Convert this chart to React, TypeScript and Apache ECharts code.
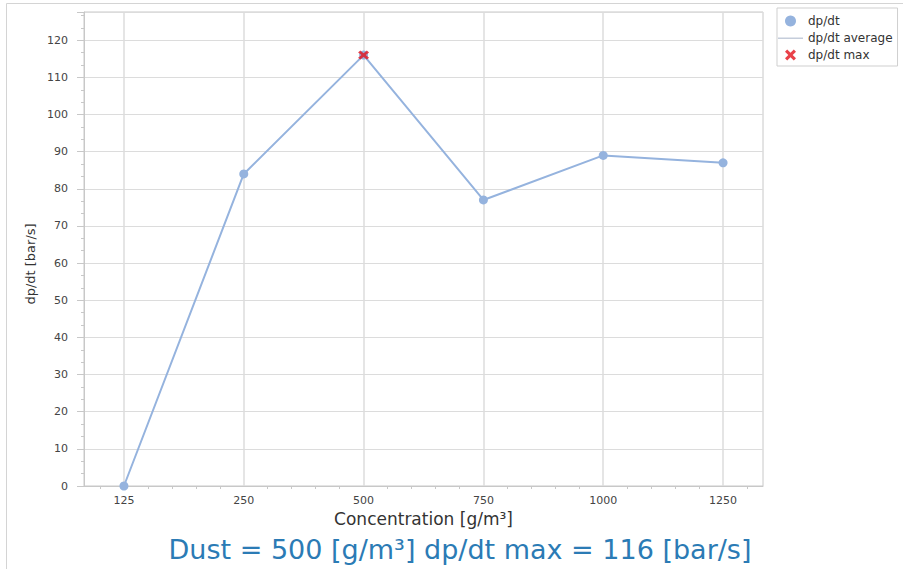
import React, { useEffect, useRef } from "react";
import * as echarts from "echarts";

// Concentration steps (g/m³) and the measured pressure-rise rates (bar/s)
const concentrations = ["125", "250", "500", "750", "1000", "1250"];
const dpdtValues = [0, 84, 116, 77, 89, 87];
const dpdtAverage: [number, number][] = [];
const yTickInterval = 10;

const FONT = "DejaVu Sans, Verdana, sans-serif";
const LINE_BLUE = "#95b3de";
const AVG_GREY = "#8c9cb8";
const GRID_GREY = "#dcdcdc";
const AXIS_GREY = "#c8c8c8";

const CROSS_PATH =
  "path://M2,0 L5,3 L8,0 L10,2 L7,5 L10,8 L8,10 L5,7 L2,10 L0,8 L3,5 L0,2 Z";
// thin horizontal bar inside a 40x10 box (corner dots keep the box height)
const THIN_LINE_PATH =
  "path://M0,0 L0.01,0 L0.01,0.01 Z M40,10 L39.99,10 L39.99,9.99 Z M0,4.5 L40,4.5 L40,5.6 L0,5.6 Z";

export default function App() {
  const ref = useRef<HTMLDivElement>(null);

  useEffect(() => {
    if (!ref.current) return;
    const chart = echarts.init(ref.current, undefined, { renderer: "svg" });

    const points = dpdtValues.map((v, i) => [i, v]);
    const maxValue = Math.max(...dpdtValues);
    const maxIndex = dpdtValues.indexOf(maxValue);
    const maxDust = concentrations[maxIndex];

    const xMin = -1 / 3;
    const xMax = concentrations.length - 1 + 1 / 3;
    const majorX = concentrations.map((_, i) => i);
    const minorX: number[] = [];
    for (let k = -1; k <= (concentrations.length - 1) * 5 + 1; k++) {
      const v = k / 5;
      if (k % 5 !== 0 && v > xMin && v < xMax) minorX.push(v);
    }

    chart.setOption({
      animation: false,
      backgroundColor: "#ffffff",
      grid: {
        left: 84,
        top: 12,
        right: 140,
        bottom: 83,
        show: true,
        borderColor: AXIS_GREY,
        borderWidth: 1,
      },
      legend: {
        orient: "vertical",
        left: 777,
        top: 8,
        padding: [7, 5, 5, 1],
        itemWidth: 25,
        itemHeight: 11,
        itemGap: 5,
        borderColor: "#cfcfcf",
        borderWidth: 1,
        textStyle: { fontFamily: FONT, fontSize: 12, color: "#333" },
        data: [
          { name: "dp/dt", icon: "circle" },
          {
            name: "dp/dt average",
            icon: THIN_LINE_PATH,
            itemStyle: { color: AVG_GREY, opacity: 1, borderWidth: 0 },
          },
          { name: "dp/dt max", icon: CROSS_PATH },
        ],
      },
      xAxis: [
        {
          type: "value",
          min: xMin,
          max: xMax,
          name: "Concentration [g/m³]",
          nameLocation: "middle",
          nameGap: 24,
          nameTextStyle: { fontFamily: FONT, fontSize: 17, color: "#333" },
          axisLine: { show: true, onZero: false, lineStyle: { color: AXIS_GREY } },
          axisTick: { show: false, customValues: majorX },
          axisLabel: {
            customValues: majorX,
            margin: 9,
            fontFamily: FONT,
            fontSize: 11,
            color: "#444",
            formatter: (v: number) => concentrations[Math.round(v)] ?? "",
          },
          splitLine: { show: true, lineStyle: { color: GRID_GREY, width: 1.5 } },
        },
        {
          type: "value",
          min: xMin,
          max: xMax,
          position: "bottom",
          axisLine: { show: false, onZero: false },
          axisLabel: { show: false },
          splitLine: { show: false },
          axisTick: {
            show: true,
            customValues: minorX,
            length: 3,
            lineStyle: { color: AXIS_GREY },
          },
        },
      ],
      yAxis: {
        type: "value",
        min: 0,
        max: maxValue * 1.1,
        interval: yTickInterval,
        axisLine: { show: true, onZero: false, lineStyle: { color: AXIS_GREY } },
        axisTick: { show: true, length: 7, lineStyle: { color: AXIS_GREY } },
        minorTick: { show: true, splitNumber: 3, length: 3, lineStyle: { color: AXIS_GREY } },
        axisLabel: {
          margin: 16,
          fontFamily: FONT,
          fontSize: 11,
          color: "#444",
          showMaxLabel: false,
        },
        splitLine: { show: true, lineStyle: { color: GRID_GREY, width: 1 } },
      },
      series: [
        {
          name: "dp/dt",
          type: "line",
          xAxisIndex: 0,
          data: points,
          color: LINE_BLUE,
          lineStyle: { width: 2, color: LINE_BLUE },
          symbol: "circle",
          symbolSize: 9,
          itemStyle: { color: LINE_BLUE },
          z: 3,
        },
        {
          name: "dp/dt average",
          type: "line",
          xAxisIndex: 0,
          data: dpdtAverage,
          color: AVG_GREY,
          symbol: "none",
          itemStyle: { color: AVG_GREY },
          lineStyle: { width: 1, color: AVG_GREY },
        },
        {
          name: "dp/dt max",
          type: "scatter",
          xAxisIndex: 0,
          data: [[maxIndex, maxValue]],
          symbol: CROSS_PATH,
          symbolSize: [11, 9],
          itemStyle: { color: "#e3111b" },
          z: 5,
        },
      ],
      graphic: [
        {
          type: "rect",
          silent: true,
          shape: { x: 6.5, y: 3.5, width: 1000, height: 700 },
          style: { fill: "none", stroke: "#d4d4d4", lineWidth: 1 },
          z: -10,
        },
        {
          type: "text",
          x: 30,
          y: 264,
          rotation: Math.PI / 2,
          style: {
            text: "dp/dt [bar/s]",
            fontFamily: FONT,
            fontSize: 13,
            fill: "#333",
            textAlign: "center",
            textVerticalAlign: "middle",
          },
        },
        {
          type: "text",
          x: 460,
          y: 549,
          style: {
            text: `Dust = ${maxDust} [g/m³] dp/dt max = ${maxValue} [bar/s]`,
            fontFamily: FONT,
            fontSize: 27,
            fill: "#2b7bb5",
            textAlign: "center",
            textVerticalAlign: "middle",
          },
        },
      ],
    });

    return () => chart.dispose();
  }, []);

  return (
    <div
      ref={ref}
      style={{ position: "fixed", left: 0, top: 0, width: 903, height: 569 }}
    />
  );
}
